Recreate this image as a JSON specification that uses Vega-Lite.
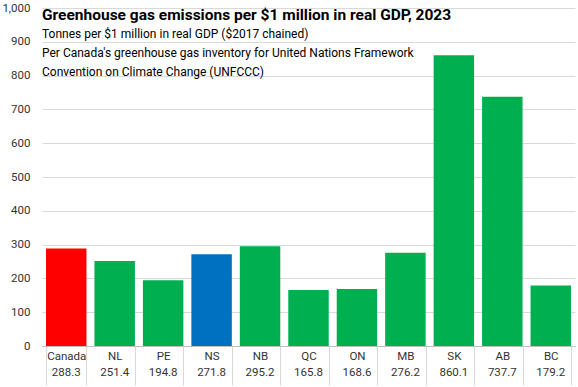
{
  "$schema": "https://vega.github.io/schema/vega-lite/v6.json",
  "width": 533,
  "height": 338,
  "autosize": {"type": "none"},
  "padding": {"left": 42, "top": 8, "right": 3, "bottom": 41},
  "background": "white",
  "title": {
    "text": "Greenhouse gas emissions per $1 million in real GDP, 2023",
    "subtitle": ["Tonnes per $1 million in real GDP ($2017 chained)", "Per Canada's greenhouse gas inventory for United Nations Framework", "Convention on Climate Change (UNFCCC)"],
    "anchor": "start",
    "frame": "group",
    "orient": "top",
    "offset": -76,
    "font": "Roboto",
    "fontSize": 15.5,
    "fontWeight": "bold",
    "color": "#000000",
    "subtitleFont": "Roboto",
    "subtitleFontSize": 12,
    "subtitleColor": "#000000",
    "subtitleLineHeight": 19,
    "subtitlePadding": 6
  },
  "data": {
    "values": [
      {"region": "Canada", "value": 288.3, "kind": "Canada"},
      {"region": "NL", "value": 251.4, "kind": "Other"},
      {"region": "PE", "value": 194.8, "kind": "Other"},
      {"region": "NS", "value": 271.8, "kind": "NS"},
      {"region": "NB", "value": 295.2, "kind": "Other"},
      {"region": "QC", "value": 165.8, "kind": "Other"},
      {"region": "ON", "value": 168.6, "kind": "Other"},
      {"region": "MB", "value": 276.2, "kind": "Other"},
      {"region": "SK", "value": 860.1, "kind": "Other"},
      {"region": "AB", "value": 737.7, "kind": "Other"},
      {"region": "BC", "value": 179.2, "kind": "Other"}
    ]
  },
  "encoding": {
    "x": {
      "field": "region",
      "type": "nominal",
      "sort": null,
      "scale": {"paddingInner": 0.165, "paddingOuter": 0.0825},
      "axis": {
        "title": null,
        "labelAngle": 0,
        "tickBand": "extent",
        "tickSize": 39,
        "tickColor": "#d9d9d9",
        "domainColor": "#bfbfbf",
        "labelPadding": -29,
        "labelFont": "Roboto",
        "labelFontSize": 11.5,
        "labelColor": "#333333",
        "labelBaseline": "middle"
      }
    }
  },
  "layer": [
    {
      "mark": {"type": "bar"},
      "encoding": {
        "y": {
          "field": "value",
          "type": "quantitative",
          "scale": {"domain": [0, 1000], "nice": false},
          "axis": {
            "title": null,
            "values": [0, 100, 200, 300, 400, 500, 600, 700, 800, 900, 1000],
            "labelOverlap": false,
            "format": ",d",
            "domain": false,
            "ticks": false,
            "grid": true,
            "gridColor": "#d9d9d9",
            "labelFont": "Roboto",
            "labelFontSize": 11.5,
            "labelColor": "#333333",
            "labelPadding": 12
          }
        },
        "color": {
          "field": "kind",
          "type": "nominal",
          "scale": {"domain": ["Canada", "NS", "Other"], "range": ["#ff0000", "#0070c0", "#00b050"]},
          "legend": null
        }
      }
    },
    {
      "mark": {"type": "text", "dy": 27, "baseline": "middle", "font": "Roboto", "fontSize": 11.5, "color": "#333333"},
      "encoding": {
        "y": {
          "datum": 0,
          "type": "quantitative",
          "axis": {
            "title": null,
            "values": [0, 100, 200, 300, 400, 500, 600, 700, 800, 900, 1000],
            "labelOverlap": false,
            "format": ",d",
            "domain": false,
            "ticks": false,
            "grid": true,
            "gridColor": "#d9d9d9",
            "labelFont": "Roboto",
            "labelFontSize": 11.5,
            "labelColor": "#333333",
            "labelPadding": 12
          }
        },
        "text": {"field": "value", "type": "quantitative", "format": ".1f"}
      }
    }
  ],
  "config": {"view": {"stroke": null}}
}
